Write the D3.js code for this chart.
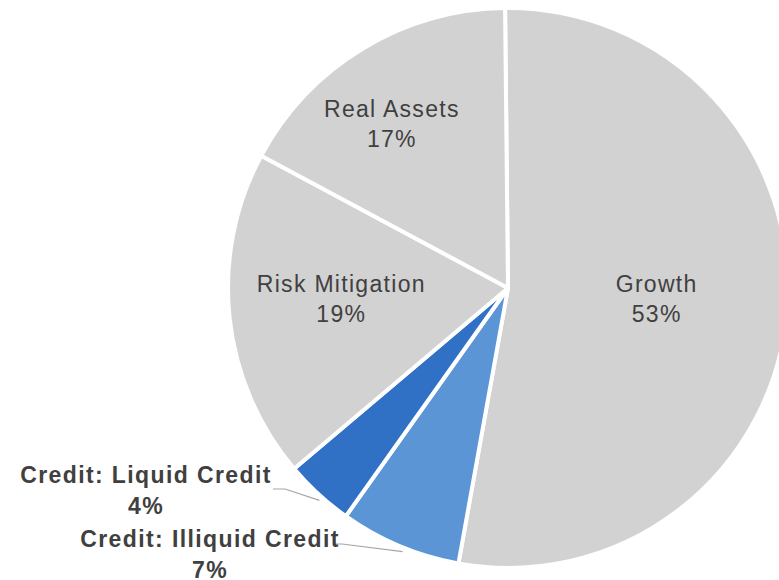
<!DOCTYPE html>
<html>
<head>
<meta charset="utf-8">
<script src="https://cdn.jsdelivr.net/npm/d3@7"></script>
<style>
  body { margin: 0; background: #fff; }
  svg { display: block; }
</style>
</head>
<body>
<svg id="chart" width="779" height="580"></svg>
<script>
// chart data
var categories = ["Growth", "Credit: Illiquid Credit", "Credit: Liquid Credit", "Risk Mitigation", "Real Assets"];
var values = [53, 7, 4, 19, 17];
var labels = ["53%", "7%", "4%", "19%", "17%"];

var width = 779, height = 580;
var cx = 508, cy = 288, radius = 280;

var svg = d3.select("#chart");
var g = svg.append("g").attr("transform", "translate(" + cx + "," + cy + ")");

var color = d3.scaleOrdinal()
  .domain(categories)
  .range(["#d2d2d2", "#5b95d5", "#3071c5", "#d2d2d2", "#d2d2d2"]);

var data = categories.map(function(c, i) { return { name: c, value: values[i], label: labels[i] }; });

// excel starts the first slice a touch left of 12 o'clock
var start = -0.6 * Math.PI / 180;
var pie = d3.pie().sort(null).value(function(d) { return d.value; })
  .startAngle(start).endAngle(start + 2 * Math.PI);
var arcs = pie(data);

var arc = d3.arc().innerRadius(0).outerRadius(radius);

g.selectAll("path.slice")
  .data(arcs)
  .enter().append("path")
  .attr("class", "slice")
  .attr("d", arc)
  .attr("fill", function(d) { return color(d.data.name); })
  .attr("stroke", "#fff")
  .attr("stroke-width", 4)
  .attr("stroke-linejoin", "round");

var font = "Liberation Sans, Arial, sans-serif";

// inside labels: radius / angle nudge where excel put them
var insideR = { "Growth": 149, "Risk Mitigation": 167, "Real Assets": 202 };
var angleNudge = { "Growth": -1, "Risk Mitigation": 2.6, "Real Assets": -3.9 };

arcs.forEach(function(d) {
  var name = d.data.name;
  if (!(name in insideR)) return;
  var a = (d.startAngle + d.endAngle) / 2 + angleNudge[name] * Math.PI / 180;
  var x = insideR[name] * Math.sin(a), y = -insideR[name] * Math.cos(a);
  var t = g.append("text")
    .attr("text-anchor", "middle")
    .attr("font-family", font)
    .attr("font-size", "23px")
    .attr("letter-spacing", "1.3px")
    .attr("fill", "#404040");
  t.append("tspan").attr("x", x).attr("y", y - 6).text(name);
  t.append("tspan").attr("x", x).attr("y", y + 24).text(d.data.label);
});

// outside labels with leader lines (text centre x, first baseline, elbow)
var outside = {
  "Credit: Liquid Credit":   { tx: -362, ty: 195, lx1: -235, lx2: -223, ly: 201 },
  "Credit: Illiquid Credit": { tx: -298, ty: 259, lx1: -175, lx2: -166, ly: 256 }
};

arcs.forEach(function(d) {
  var name = d.data.name;
  var o = outside[name];
  if (!o) return;
  var a = (d.startAngle + d.endAngle) / 2 - 1 * Math.PI / 180;
  var px = (radius + 4) * Math.sin(a), py = -(radius + 4) * Math.cos(a);
  g.append("polyline")
    .attr("points", [[o.lx1, o.ly], [o.lx2, o.ly], [px, py]].map(function(p) { return p.join(","); }).join(" "))
    .attr("fill", "none")
    .attr("stroke", "#a6a6a6")
    .attr("stroke-width", 1.2);
  var t = g.append("text")
    .attr("text-anchor", "middle")
    .attr("font-family", font)
    .attr("font-size", "23px")
    .attr("font-weight", "bold")
    .attr("letter-spacing", "1.4px")
    .attr("fill", "#404040");
  t.append("tspan").attr("x", o.tx).attr("y", o.ty).text(name);
  t.append("tspan").attr("x", o.tx).attr("y", o.ty + 31).text(d.data.label);
});
</script>
</body>
</html>
